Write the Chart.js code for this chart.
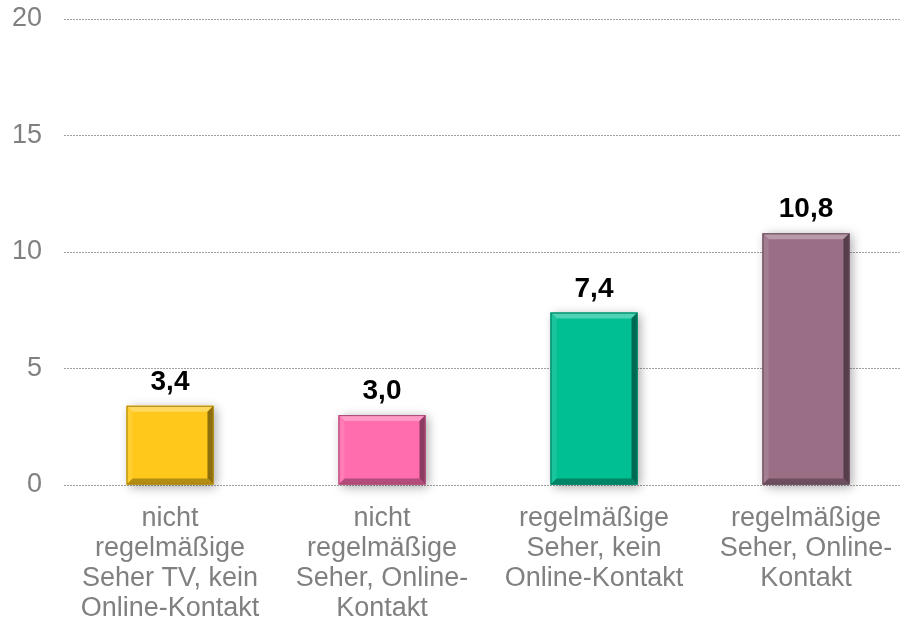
<!DOCTYPE html>
<html>
<head>
<meta charset="utf-8">
<script src="https://cdn.jsdelivr.net/npm/chart.js@4"></script>
<style>
  html, body { margin: 0; padding: 0; background: #fff; overflow: hidden; }
  #wrap { width: 912px; height: 620px; }
</style>
</head>
<body>
<div id="wrap"><canvas id="chart"></canvas></div>
<script>
const categories = [
    ['nicht', 'regelmäßige', 'Seher TV, kein', 'Online-Kontakt'],
    ['nicht', 'regelmäßige', 'Seher, Online-', 'Kontakt'],
    ['regelmäßige', 'Seher, kein', 'Online-Kontakt'],
    ['regelmäßige', 'Seher, Online-', 'Kontakt']
];
const values = [3.4, 3.0, 7.4, 10.8];
const barColors = ['#FFC81A', '#FF6DAE', '#00BF93', '#9A6F86'];
const yTicks = [0, 5, 10, 15, 20];

function shade(hex, amt) {
    const n = parseInt(hex.slice(1), 16);
    let r = (n >> 16) & 255, g = (n >> 8) & 255, b = n & 255;
    if (amt > 0) {
        r += (255 - r) * amt; g += (255 - g) * amt; b += (255 - b) * amt;
    } else {
        r *= 1 + amt; g *= 1 + amt; b *= 1 + amt;
    }
    return 'rgb(' + Math.round(r) + ',' + Math.round(g) + ',' + Math.round(b) + ')';
}

// bevel and shadow drawn on top of the bars chart.js places
const bevelPlugin = {
    id: 'bevel',
    beforeDatasetsDraw(chart) {
        const ctx = chart.ctx;
        chart.getDatasetMeta(0).data.forEach((bar, i) => {
            const left = bar.x - bar.width / 2, top = bar.y;
            ctx.save();
            ctx.shadowColor = 'rgba(0,0,0,0.35)';
            ctx.shadowBlur = 10;
            ctx.shadowOffsetX = 3;
            ctx.shadowOffsetY = 2;
            ctx.fillStyle = barColors[i];
            ctx.fillRect(left, top, bar.width, bar.base - top);
            ctx.restore();
        });
    },
    afterDatasetsDraw(chart) {
        const ctx = chart.ctx;
        const b = 6;
        chart.getDatasetMeta(0).data.forEach((bar, i) => {
            const l = bar.x - bar.width / 2, r = bar.x + bar.width / 2;
            const t = bar.y, bt = bar.base;
            const c = barColors[i];
            ctx.save();
            // top
            ctx.fillStyle = shade(c, 0.3);
            ctx.beginPath();
            ctx.moveTo(l, t); ctx.lineTo(r, t); ctx.lineTo(r - b, t + b); ctx.lineTo(l + b, t + b);
            ctx.fill();
            // left
            ctx.fillStyle = shade(c, 0.1);
            ctx.beginPath();
            ctx.moveTo(l, t); ctx.lineTo(l + b, t + b); ctx.lineTo(l + b, bt - b); ctx.lineTo(l, bt);
            ctx.fill();
            // right
            ctx.fillStyle = shade(c, -0.45);
            ctx.beginPath();
            ctx.moveTo(r, t); ctx.lineTo(r - b, t + b); ctx.lineTo(r - b, bt - b); ctx.lineTo(r, bt);
            ctx.fill();
            // bottom
            ctx.fillStyle = shade(c, -0.3);
            ctx.beginPath();
            ctx.moveTo(l, bt); ctx.lineTo(l + b, bt - b); ctx.lineTo(r - b, bt - b); ctx.lineTo(r, bt);
            ctx.fill();
            ctx.strokeStyle = shade(c, -0.35);
            ctx.lineWidth = 1;
            ctx.strokeRect(l + 0.5, t + 0.5, bar.width - 1, bt - t - 1);
            // value label
            ctx.fillStyle = '#000';
            ctx.font = 'bold 28px "Liberation Sans", Arial, sans-serif';
            ctx.textAlign = 'center';
            ctx.textBaseline = 'alphabetic';
            ctx.fillText(values[i].toFixed(1).replace('.', ','), bar.x, t - 16);
            ctx.restore();
        });
    }
};

const ctx = document.getElementById('chart').getContext('2d');
const chart = new Chart(ctx, {
    type: 'bar',
    data: {
        labels: categories,
        datasets: [{
            data: values,
            backgroundColor: barColors,
            borderWidth: 0,
            categoryPercentage: 1,
            barPercentage: 0.41
        }]
    },
    options: {
        responsive: true,
        maintainAspectRatio: false,
        animation: false,
        layout: { padding: { top: 19, right: 0, bottom: 0, left: 0 } },
        plugins: {
            legend: { display: false },
            tooltip: { enabled: false }
        },
        scales: {
            x: {
                afterFit(axis) {
                    axis.height = 135;
                },
                grid: { display: false },
                border: { display: false },
                ticks: {
                    color: '#808080',
                    font: { family: '"Liberation Sans", Arial, sans-serif', size: 27, lineHeight: '30px' },
                    padding: 11,
                    maxRotation: 0,
                    autoSkip: false
                }
            },
            y: {
                min: 0,
                max: 20,
                afterBuildTicks(axis) {
                    axis.ticks = yTicks.map(v => ({ value: v }));
                },
                afterFit(axis) {
                    axis.width = 64;
                    axis.paddingTop = 0;
                    axis.paddingBottom = 0;
                },
                grid: {
                    color: '#a0a0a0',
                    lineWidth: 1,
                    drawTicks: false
                },
                border: { display: false, dash: [2, 1] },
                ticks: {
                    color: '#808080',
                    font: { family: '"Liberation Sans", Arial, sans-serif', size: 27 },
                    padding: 22
                }
            }
        }
    },
    plugins: [bevelPlugin]
});
</script>
</body>
</html>
